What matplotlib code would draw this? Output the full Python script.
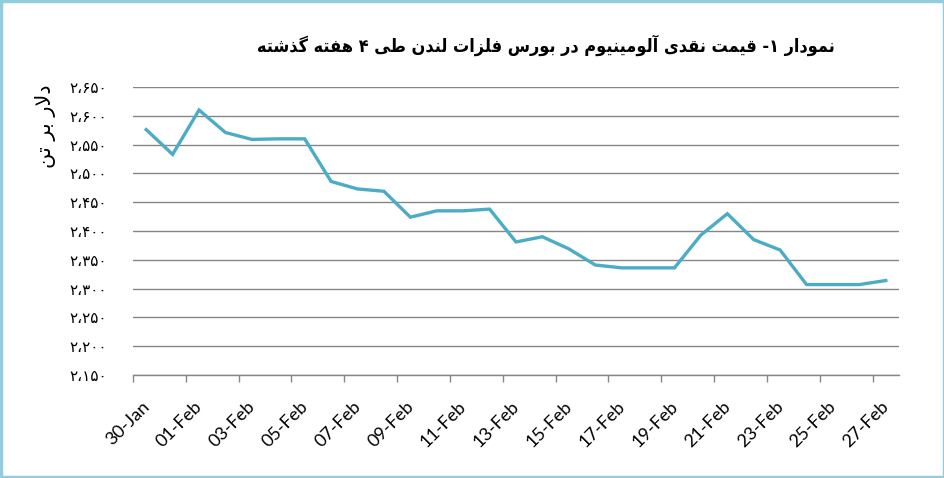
import matplotlib
matplotlib.use("Agg")
import matplotlib.pyplot as plt
import matplotlib.transforms as mtransforms
import numpy as np
from matplotlib.patches import Rectangle

# daily spot price, LME aluminium (USD / tonne)
dates = ['30-Jan', '31-Jan', '01-Feb', '02-Feb', '03-Feb', '04-Feb', '05-Feb',
         '06-Feb', '07-Feb', '08-Feb', '09-Feb', '10-Feb', '11-Feb', '12-Feb',
         '13-Feb', '14-Feb', '15-Feb', '16-Feb', '17-Feb', '18-Feb', '19-Feb',
         '20-Feb', '21-Feb', '22-Feb', '23-Feb', '24-Feb', '25-Feb', '26-Feb',
         '27-Feb']
prices = [2576, 2533, 2610, 2571, 2559, 2560, 2560, 2486, 2473, 2469, 2424,
          2435, 2435, 2438, 2381, 2390, 2369, 2341, 2336, 2336, 2336, 2393,
          2430, 2385, 2367, 2307, 2307, 2307, 2314]
y_ticks = [2150, 2200, 2250, 2300, 2350, 2400, 2450, 2500, 2550, 2600, 2650]

title = 'نمودار ۱- قیمت نقدی آلومینیوم در بورس فلزات لندن طی ۴ هفته گذشته'
ylabel = 'دلار بر تن'

# matplotlib has no arabic shaping, so do it by hand with presentation forms
FORMS = {
    'ا': (0xFE8D, 0xFE8E), 'آ': (0xFE81, 0xFE82), 'د': (0xFEA9, 0xFEAA),
    'ذ': (0xFEAB, 0xFEAC), 'ر': (0xFEAD, 0xFEAE), 'ز': (0xFEAF, 0xFEB0),
    'و': (0xFEED, 0xFEEE),
    'ب': (0xFE8F, 0xFE90, 0xFE91, 0xFE92), 'ت': (0xFE95, 0xFE96, 0xFE97, 0xFE98),
    'س': (0xFEB1, 0xFEB2, 0xFEB3, 0xFEB4), 'ش': (0xFEB5, 0xFEB6, 0xFEB7, 0xFEB8),
    'ط': (0xFEC1, 0xFEC2, 0xFEC3, 0xFEC4), 'ف': (0xFED1, 0xFED2, 0xFED3, 0xFED4),
    'ق': (0xFED5, 0xFED6, 0xFED7, 0xFED8), 'ل': (0xFEDD, 0xFEDE, 0xFEDF, 0xFEE0),
    'م': (0xFEE1, 0xFEE2, 0xFEE3, 0xFEE4), 'ن': (0xFEE5, 0xFEE6, 0xFEE7, 0xFEE8),
    'ه': (0xFEE9, 0xFEEA, 0xFEEB, 0xFEEC), 'ی': (0xFBFC, 0xFBFD, 0xFBFE, 0xFBFF),
    'گ': (0xFB92, 0xFB93, 0xFB94, 0xFB95),
}
LAM_ALEF = {'ا': (0xFEFB, 0xFEFC), 'آ': (0xFEF5, 0xFEF6)}


def shape(s):
    out = []
    i = 0
    while i < len(s):
        ch = s[i]
        if ch not in FORMS:
            out.append(ch)
            i += 1
            continue
        prev = s[i - 1] if i > 0 else ''
        nxt = s[i + 1] if i + 1 < len(s) else ''
        jp = prev in FORMS and len(FORMS[prev]) == 4
        if ch == 'ل' and nxt in LAM_ALEF:
            out.append(chr(LAM_ALEF[nxt][1 if jp else 0]))
            i += 2
            continue
        f = FORMS[ch]
        jn = len(f) == 4 and nxt in FORMS
        if jp and jn:
            c = f[3]
        elif jp:
            c = f[1]
        elif jn:
            c = f[2]
        else:
            c = f[0]
        out.append(chr(c))
        i += 1
    return ''.join(reversed(out))


def fa_num(v, pos=None):
    s = f"{int(v):,}"
    return s.translate(str.maketrans('0123456789,', '۰۱۲۳۴۵۶۷۸۹،'))


blue = '#4bacc6'
grid_c = '#868686'

fig = plt.figure(figsize=(9.45, 4.78), dpi=100)
ax = fig.add_axes([133 / 945, 1 - 375 / 478, (899 - 133) / 945, (375 - 87) / 478])

x = np.arange(len(dates))
ax.plot(x, prices, color=blue, linewidth=2.4, solid_joinstyle='miter')

ax.set_xlim(-0.5, len(dates) - 0.5)
ax.set_ylim(2150, 2650)
ax.set_yticks(y_ticks)
ax.yaxis.set_major_formatter(plt.FuncFormatter(fa_num))
ax.tick_params(axis='y', length=0, pad=19, labelsize=11)
for lab in ax.get_yticklabels():
    lab.set_fontfamily('DejaVu Sans')
ax.grid(axis='y', color=grid_c, linewidth=1)
ax.set_axisbelow(True)

ax.set_xticks(np.arange(-0.5, len(dates) - 1, 2))
ax.set_xticklabels([])
ax.set_xticks(x[::2], minor=True)
ax.set_xticklabels(dates[::2], minor=True, rotation=45, ha='right',
                   rotation_mode='anchor', fontsize=13, fontfamily='Lato')
ax.tick_params(axis='x', which='major', length=5, color=grid_c, width=1)
ax.tick_params(axis='x', which='minor', length=0, pad=17)
shift = mtransforms.ScaledTranslation(-5 / 100, 0, fig.dpi_scale_trans)
for lab in ax.get_xticklabels(minor=True):
    lab.set_transform(lab.get_transform() + shift)

for side in ['top', 'right', 'left']:
    ax.spines[side].set_visible(False)
ax.spines['bottom'].set_color(grid_c)
ax.spines['bottom'].set_linewidth(1)

fig.text(546 / 945, 1 - 45 / 478, shape(title), ha='center', va='center',
         fontsize=13, fontweight='bold', fontfamily='DejaVu Sans',
         fontstretch='condensed')
fig.text(46 / 945, 1 - 126 / 478, shape(ylabel), ha='center', va='center',
         rotation=90, fontsize=15, fontfamily='DejaVu Sans')

fig.patches.append(Rectangle((0.0015, 0.003), 0.997, 0.994, transform=fig.transFigure,
                             fill=False, edgecolor='#92cddc', linewidth=2.5))

fig.savefig('out.png', dpi=100)
